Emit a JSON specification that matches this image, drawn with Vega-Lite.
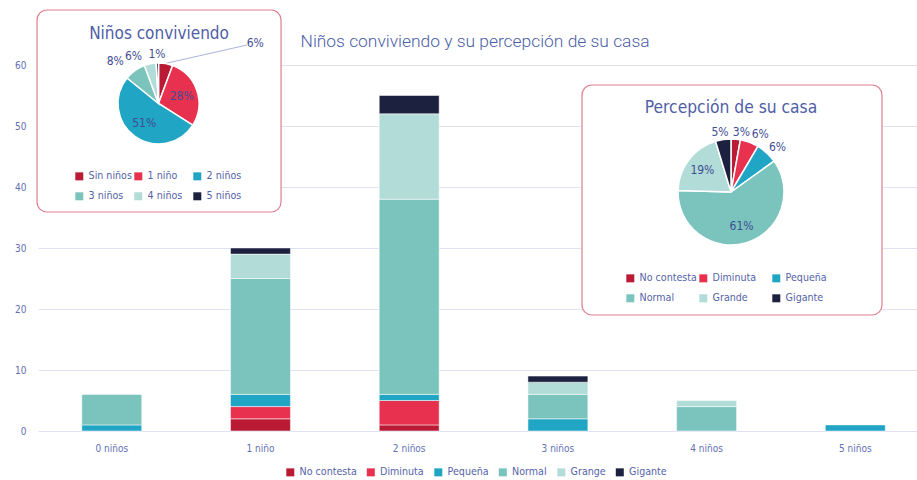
{
  "$schema": "https://vega.github.io/schema/vega-lite/v6.json",
  "width": 879,
  "height": 366,
  "autosize": {"type": "none"},
  "padding": {"left": 38, "top": 65, "right": 0, "bottom": 49},
  "background": "white",
  "config": {
    "view": {"stroke": null},
    "font": "DejaVu Sans Condensed, sans-serif",
    "legend": {"labelFont": "DejaVu Sans Condensed, sans-serif", "labelFontSize": 10.6, "labelColor": "#5563a8", "symbolType": "square", "symbolSize": 64, "symbolStrokeWidth": 0},
    "axis": {"labelFont": "DejaVu Sans Condensed, sans-serif", "labelFontSize": 10, "labelColor": "#6270b4"}
  },
  "datasets": {
    "barras": [
      {"ninos": "0 niños", "tam": "Pequeña", "n": 1},
      {"ninos": "0 niños", "tam": "Normal", "n": 5},
      {"ninos": "1 niño", "tam": "No contesta", "n": 2},
      {"ninos": "1 niño", "tam": "Diminuta", "n": 2},
      {"ninos": "1 niño", "tam": "Pequeña", "n": 2},
      {"ninos": "1 niño", "tam": "Normal", "n": 19},
      {"ninos": "1 niño", "tam": "Grange", "n": 4},
      {"ninos": "1 niño", "tam": "Gigante", "n": 1},
      {"ninos": "2 niños", "tam": "No contesta", "n": 1},
      {"ninos": "2 niños", "tam": "Diminuta", "n": 4},
      {"ninos": "2 niños", "tam": "Pequeña", "n": 1},
      {"ninos": "2 niños", "tam": "Normal", "n": 32},
      {"ninos": "2 niños", "tam": "Grange", "n": 14},
      {"ninos": "2 niños", "tam": "Gigante", "n": 3},
      {"ninos": "3 niños", "tam": "Pequeña", "n": 2},
      {"ninos": "3 niños", "tam": "Normal", "n": 4},
      {"ninos": "3 niños", "tam": "Grange", "n": 2},
      {"ninos": "3 niños", "tam": "Gigante", "n": 1},
      {"ninos": "4 niños", "tam": "Normal", "n": 4},
      {"ninos": "4 niños", "tam": "Grange", "n": 1},
      {"ninos": "5 niños", "tam": "Pequeña", "n": 1}
    ],
    "pie1": [
      {"grupo": "Sin niños", "n": 6, "label": "6%"},
      {"grupo": "1 niño", "n": 30, "label": "28%"},
      {"grupo": "2 niños", "n": 55, "label": "51%"},
      {"grupo": "3 niños", "n": 9, "label": "8%"},
      {"grupo": "4 niños", "n": 5, "label": "6%"},
      {"grupo": "5 niños", "n": 1, "label": "1%"}
    ],
    "pie2": [
      {"tam": "No contesta", "n": 3, "label": "3%"},
      {"tam": "Diminuta", "n": 6, "label": "6%"},
      {"tam": "Pequeña", "n": 7, "label": "6%"},
      {"tam": "Normal", "n": 64, "label": "61%"},
      {"tam": "Grande", "n": 21, "label": "19%"},
      {"tam": "Gigante", "n": 5, "label": "5%"}
    ]
  },
  "layer": [
    {
      "data": {"name": "barras"},
      "transform": [{"calculate": "indexof(['No contesta', 'Diminuta', 'Pequeña', 'Normal', 'Grange', 'Gigante'], datum.tam)", "as": "orden"}],
      "mark": {"type": "bar", "stroke": "white", "strokeWidth": 0.5},
      "encoding": {
        "x": {"field": "ninos", "type": "nominal", "sort": ["0 niños", "1 niño", "2 niños", "3 niños", "4 niños", "5 niños"],
          "scale": {"paddingInner": 0.597, "paddingOuter": 0.254, "align": 0.58},
          "axis": {"title": null, "domain": false, "ticks": false, "grid": false, "labelAngle": 0, "labelPadding": 12}},
        "y": {"field": "n", "type": "quantitative", "stack": "zero", "scale": {"domain": [0, 60]},
          "axis": {"title": null, "values": [0, 10, 20, 30, 40, 50, 60], "domain": false, "ticks": false, "labelPadding": 12, "gridColor": "#dfe2f2", "gridWidth": 1}},
        "order": {"field": "orden", "type": "quantitative", "sort": "ascending"},
        "color": {"field": "tam", "type": "nominal",
          "sort": ["No contesta", "Diminuta", "Pequeña", "Normal", "Grange", "Gigante"],
          "scale": {"domain": ["No contesta", "Diminuta", "Pequeña", "Normal", "Grange", "Gigante"], "range": ["#bb1a34", "#e8304f", "#21a5c4", "#7bc4bd", "#b1dcd8", "#1c2140"]},
          "legend": {"title": null, "orient": "none", "legendX": 247, "legendY": 402, "direction": "horizontal", "columnPadding": 8.5}}
      }
    },
    {
      "layer": [
        {
          "data": {"values": [{}]},
          "mark": {"type": "rect", "fill": "white", "stroke": "#df7f8d", "strokeWidth": 1.2, "cornerRadius": 10},
          "encoding": {
            "x": {"datum": -0.0011, "type": "quantitative", "scale": {"domain": [0, 1]}, "axis": null},
            "x2": {"datum": 0.2765},
            "y": {"datum": -0.1503, "type": "quantitative", "scale": {"domain": [0, 1], "reverse": true}, "axis": null},
            "y2": {"datum": 0.4016}
          }
        },
        {
          "data": {"values": [{}]},
          "mark": {"type": "text", "text": "Niños conviviendo", "fontSize": 17, "color": "#4f5ea6", "baseline": "alphabetic", "align": "center"},
          "encoding": {
            "x": {"datum": 0.1377, "type": "quantitative", "axis": null},
            "y": {"datum": -0.0710, "type": "quantitative", "axis": null}
          }
        },
        {
          "data": {"values": [{}]},
          "mark": {"type": "rule", "color": "#aab3d9", "strokeWidth": 1},
          "encoding": {
            "x": {"datum": 0.1422, "type": "quantitative", "axis": null},
            "x2": {"datum": 0.2378},
            "y": {"datum": -0.0027, "type": "quantitative", "axis": null},
            "y2": {"datum": -0.0546}
          }
        },
        {
          "data": {"name": "pie1"},
          "transform": [{"window": [{"op": "row_number", "as": "idx"}]}],
          "encoding": {
            "x": {"datum": 0.1371, "type": "quantitative", "axis": null},
            "y": {"datum": 0.1052, "type": "quantitative", "axis": null},
            "theta": {"field": "n", "type": "quantitative", "stack": true},
            "order": {"field": "idx", "type": "quantitative"}
          },
          "layer": [
            {
              "mark": {"type": "arc", "outerRadius": 40.5, "stroke": "white", "strokeWidth": 1.5},
              "encoding": {
                "color": {"field": "grupo", "type": "nominal",
                  "scale": {"domain": ["Sin niños", "1 niño", "2 niños", "3 niños", "4 niños", "5 niños"], "range": ["#bb1a34", "#e8304f", "#21a5c4", "#7bc4bd", "#b1dcd8", "#1c2140"]},
                  "legend": {"title": null, "orient": "none", "legendX": 36, "legendY": 106, "columns": 3, "direction": "horizontal", "gridAlign": "all", "columnPadding": 1, "rowPadding": 9}}
              }
            },
            {
              "mark": {"type": "text", "radius": 24.5, "fontSize": 12, "color": "#3f4e94"},
              "encoding": {"detail": {"field": "grupo"}, "text": {"condition": {"test": "datum.grupo == '1 niño' || datum.grupo == '2 niños'", "field": "label"}, "value": ""}}
            },
            {
              "mark": {"type": "text", "radius": 52, "dx": -13, "fontSize": 12, "color": "#3f4e94"},
              "encoding": {"detail": {"field": "grupo"}, "text": {"condition": {"test": "datum.grupo == '3 niños'", "field": "label"}, "value": ""}}
            },
            {
              "mark": {"type": "text", "radius": 48.5, "dx": -15, "fontSize": 12, "color": "#3f4e94"},
              "encoding": {"detail": {"field": "grupo"}, "text": {"condition": {"test": "datum.grupo == '4 niños'", "field": "label"}, "value": ""}}
            },
            {
              "mark": {"type": "text", "radius": 49.5, "fontSize": 12, "color": "#3f4e94"},
              "encoding": {"detail": {"field": "grupo"}, "text": {"condition": {"test": "datum.grupo == '5 niños'", "field": "label"}, "value": ""}}
            },
            {
              "mark": {"type": "text", "radius": 61, "dx": 86, "fontSize": 12, "color": "#3f4e94"},
              "encoding": {"detail": {"field": "grupo"}, "text": {"condition": {"test": "datum.grupo == 'Sin niños'", "field": "label"}, "value": ""}}
            }
          ]
        },
        {
          "data": {"values": [{}]},
          "mark": {"type": "rect", "fill": "white", "stroke": "#df7f8d", "strokeWidth": 1.2, "cornerRadius": 10},
          "encoding": {
            "x": {"datum": 0.6189, "type": "quantitative", "axis": null},
            "x2": {"datum": 0.9602},
            "y": {"datum": 0.0546, "type": "quantitative", "axis": null},
            "y2": {"datum": 0.6831}
          }
        },
        {
          "data": {"values": [{}]},
          "mark": {"type": "text", "text": "Percepción de su casa", "fontSize": 17.3, "color": "#4f5ea6", "baseline": "alphabetic", "align": "center"},
          "encoding": {
            "x": {"datum": 0.7884, "type": "quantitative", "axis": null},
            "y": {"datum": 0.1311, "type": "quantitative", "axis": null}
          }
        },
        {
          "data": {"name": "pie2"},
          "transform": [{"window": [{"op": "row_number", "as": "idx"}]}],
          "encoding": {
            "x": {"datum": 0.7884, "type": "quantitative", "axis": null},
            "y": {"datum": 0.3470, "type": "quantitative", "axis": null},
            "theta": {"field": "n", "type": "quantitative", "stack": true},
            "order": {"field": "idx", "type": "quantitative"}
          },
          "layer": [
            {
              "mark": {"type": "arc", "outerRadius": 53, "stroke": "white", "strokeWidth": 1.5},
              "encoding": {
                "color": {"field": "tam", "type": "nominal",
                  "scale": {"domain": ["No contesta", "Diminuta", "Pequeña", "Normal", "Grande", "Gigante"], "range": ["#bb1a34", "#e8304f", "#21a5c4", "#7bc4bd", "#b1dcd8", "#1c2140"]},
                  "legend": {"title": null, "orient": "none", "legendX": 587, "legendY": 208, "columns": 3, "direction": "horizontal", "gridAlign": "all", "columnPadding": 1, "rowPadding": 9}}
              }
            },
            {
              "mark": {"type": "text", "radius": 36, "fontSize": 12, "color": "#3f4e94"},
              "encoding": {"detail": {"field": "tam"}, "text": {"condition": {"test": "datum.tam == 'Normal' || datum.tam == 'Grande'", "field": "label"}, "value": ""}}
            },
            {
              "mark": {"type": "text", "radius": 60, "dx": 5, "fontSize": 12, "color": "#3f4e94"},
              "encoding": {"detail": {"field": "tam"}, "text": {"condition": {"test": "datum.tam == 'No contesta'", "field": "label"}, "value": ""}}
            },
            {
              "mark": {"type": "text", "radius": 61, "dx": 8, "dy": -1, "fontSize": 12, "color": "#3f4e94"},
              "encoding": {"detail": {"field": "tam"}, "text": {"condition": {"test": "datum.tam == 'Diminuta'", "field": "label"}, "value": ""}}
            },
            {
              "mark": {"type": "text", "radius": 63, "dx": 4, "dy": 1, "fontSize": 12, "color": "#3f4e94"},
              "encoding": {"detail": {"field": "tam"}, "text": {"condition": {"test": "datum.tam == 'Pequeña'", "field": "label"}, "value": ""}}
            },
            {
              "mark": {"type": "text", "radius": 61, "dx": -2, "fontSize": 12, "color": "#3f4e94"},
              "encoding": {"detail": {"field": "tam"}, "text": {"condition": {"test": "datum.tam == 'Gigante'", "field": "label"}, "value": ""}}
            }
          ]
        },
        {
          "data": {"values": [{}]},
          "mark": {"type": "text", "text": "Niños conviviendo y su percepción de su casa", "font": "Roboto", "fontWeight": 300, "fontSize": 17.4, "color": "#4a5ea8", "baseline": "alphabetic", "align": "center"},
          "encoding": {
            "x": {"datum": 0.4972, "type": "quantitative", "axis": null},
            "y": {"datum": -0.0492, "type": "quantitative", "axis": null}
          }
        }
      ],
      "resolve": {"scale": {"color": "independent", "theta": "independent"}, "legend": {"color": "independent"}}
    }
  ],
  "resolve": {"scale": {"x": "independent", "y": "independent", "color": "independent"}, "legend": {"color": "independent"}}
}
